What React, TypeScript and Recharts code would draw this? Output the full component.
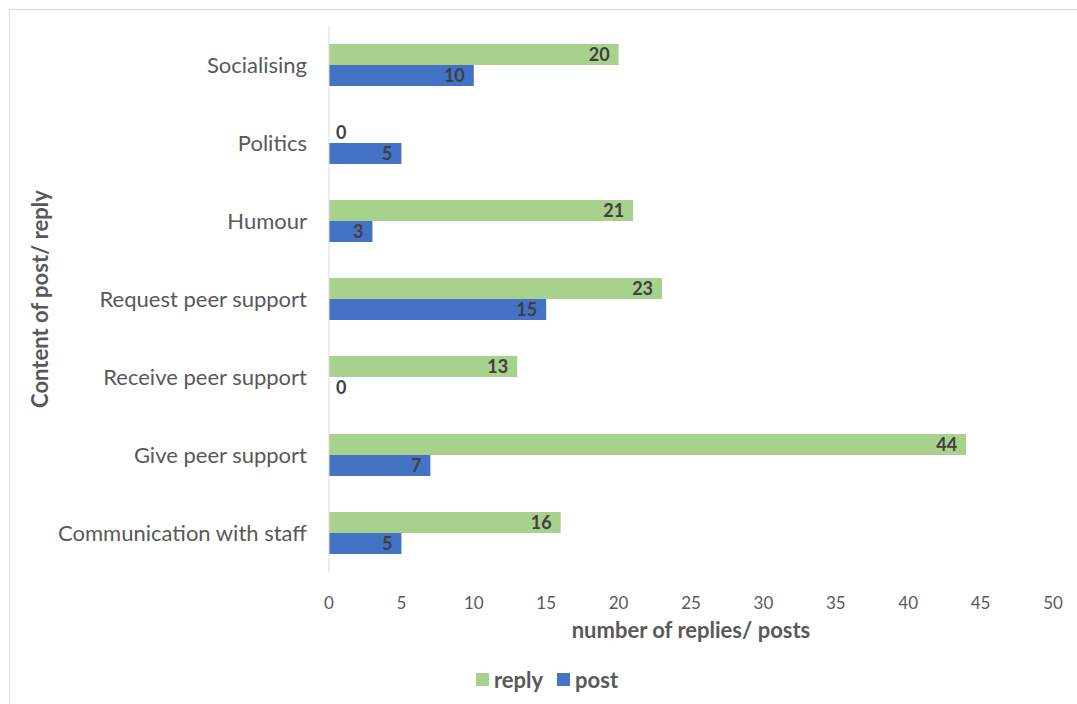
import { Bar, BarChart, Cell, LabelList, Legend, XAxis, YAxis } from "recharts";

const categories = [
  "Socialising",
  "Politics",
  "Humour",
  "Request peer support",
  "Receive peer support",
  "Give peer support",
  "Communication with staff",
];
const replyValues = [20, 0, 21, 23, 13, 44, 16];
const postValues = [10, 5, 3, 15, 0, 7, 5];
const xTicks = [0, 5, 10, 15, 20, 25, 30, 35, 40, 45, 50];
const seriesOrder = ["reply", "post"];

const data = categories.map((name, i) => ({
  name,
  reply: replyValues[i],
  post: postValues[i],
}));

const FONT = "Lato, 'Open Sans', sans-serif";
const GREY = "#595959";
const GREEN = "#A9D18E";
const BLUE = "#4472C4";

// Excel style "inside end" label; zero values sit just right of the axis
function EndLabel(props: any) {
  const { x, y, width, height, value } = props;
  const cy = Number(y) + Number(height) / 2;
  const zero = Number(value) === 0;
  return (
    <text
      x={zero ? Number(x) + 7 : Number(x) + Number(width) - 9}
      y={cy}
      dy="0.36em"
      textAnchor={zero ? "start" : "end"}
      fill="#404040"
      style={{ fontSize: 18, fontWeight: 700, fontFamily: FONT }}
    >
      {String(value)}
    </text>
  );
}

function LegendBox({ payload }: any) {
  const items = [...(payload || [])].sort(
    (a: any, b: any) => seriesOrder.indexOf(a.value) - seriesOrder.indexOf(b.value)
  );
  return (
    <div style={{ display: "flex", justifyContent: "center", paddingLeft: 41, fontFamily: FONT }}>
      {items.map((p: any) => (
        <div key={p.value} style={{ display: "flex", alignItems: "center", margin: "0 7px" }}>
          <span style={{ width: 13, height: 13, background: p.color, display: "inline-block", marginRight: 5 }} />
          <span style={{ fontSize: 22, fontWeight: 700, color: GREY }}>{p.value}</span>
        </div>
      ))}
    </div>
  );
}

export default function App() {
  return (
    <div style={{ position: "absolute", left: 0, top: 0, width: 1077, height: 704, overflow: "hidden", background: "#fff" }}>
      <div style={{ position: "absolute", left: 9, top: 9, width: 1100, height: 720, border: "1px solid #D9D9D9" }} />
      <div style={{ position: "absolute", left: 0, top: 0 }}>
        <BarChart
          width={1077}
          height={704}
          data={data}
          layout="vertical"
          margin={{ top: 26, right: 24, bottom: 2, left: 0 }}
          barGap={0}
          barSize={21}
        >
          <XAxis
            type="number"
            domain={[0, 50]}
            ticks={xTicks}
            axisLine={false}
            tickLine={false}
            tickMargin={19}
            height={94}
            tick={{ fill: GREY, fontSize: 17, fontFamily: FONT }}
            label={{
              value: "number of replies/ posts",
              position: "insideBottom",
              offset: 28,
              fill: GREY,
              style: { fontSize: 22, fontWeight: 700, fontFamily: FONT },
            }}
          />
          <YAxis
            type="category"
            dataKey="name"
            width={329}
            axisLine={{ stroke: "#D9D9D9" }}
            tickLine={false}
            tickMargin={16}
            interval={0}
            tick={{ fill: GREY, fontSize: 22, fontFamily: FONT }}
            label={{
              content: ({ viewBox }: any) => (
                <text
                  x={viewBox.x + 42}
                  y={viewBox.y + viewBox.height / 2}
                  transform={`rotate(-90, ${viewBox.x + 42}, ${viewBox.y + viewBox.height / 2})`}
                  textAnchor="middle"
                  dominantBaseline="middle"
                  fill={GREY}
                  style={{ fontSize: 22, fontWeight: 700, fontFamily: FONT }}
                >
                  Content of post/ reply
                </text>
              ),
            }}
          />
          <Legend verticalAlign="bottom" height={36} content={<LegendBox />} />
          <Bar dataKey="reply" name="reply" fill={GREEN} minPointSize={1} isAnimationActive={false}>
            {replyValues.map((v, i) => (
              <Cell key={i} fill={v === 0 ? "none" : GREEN} />
            ))}
            <LabelList dataKey="reply" content={<EndLabel />} />
          </Bar>
          <Bar dataKey="post" name="post" fill={BLUE} minPointSize={1} isAnimationActive={false}>
            {postValues.map((v, i) => (
              <Cell key={i} fill={v === 0 ? "none" : BLUE} />
            ))}
            <LabelList dataKey="post" content={<EndLabel />} />
          </Bar>
        </BarChart>
      </div>
    </div>
  );
}
